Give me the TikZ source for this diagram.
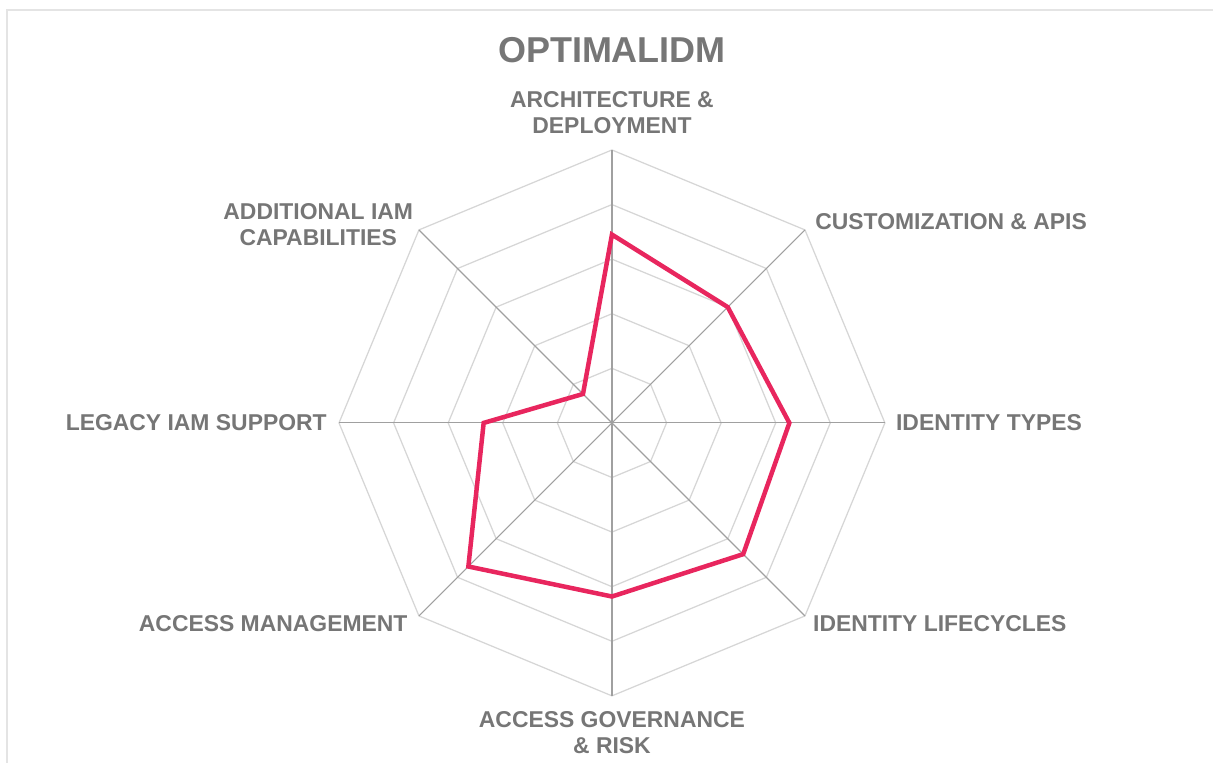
\documentclass[tikz,border=0pt]{standalone}
\usepackage{fontspec}
\setmainfont{Liberation Sans}
\definecolor{labelgray}{HTML}{767676}
\definecolor{ringgray}{HTML}{D6D6D6}
\definecolor{spokegray}{HTML}{A0A0A0}
\definecolor{scorered}{HTML}{E8265E}
\definecolor{framegray}{HTML}{E4E4E4}
\tikzset{
  axislabel/.style={text=labelgray, font=\fontsize{16.3}{18.5}\selectfont\bfseries, inner sep=0pt, align=center},
  ring/.style={draw=ringgray, line width=0.9pt},
  spoke/.style={draw=spokegray, line width=0.8pt},
  score/.style={draw=scorered, line width=3.2pt, line join=miter}
}
\begin{document}
\begin{tikzpicture}[x=1.365cm, y=1.365cm]

\useasboundingbox (-11.21,-6.227) rectangle (11.01,7.747);

% Frame
\draw [framegray, line width=1.2pt] (-11.08,-6.227) -- (-11.08,7.564) -- (11.01,7.564);

% Rings
\foreach \r in {1,...,5} {
  \draw [ring] (90:\r) -- (45:\r) -- (0:\r) -- (-45:\r) -- (-90:\r) -- (-135:\r) -- (180:\r) -- (135:\r) -- cycle;
}

% Spokes
\foreach \a in {0,45,...,315} {
  \draw [spoke] (0,0) -- (\a:5);
}

% Scores
\draw [score] (90:3.45) -- (45:3) -- (0:3.25) -- (-45:3.4) -- (-90:3.18) -- (-135:3.72) -- (180:2.35) -- (135:0.75) -- cycle;

% Labels
\node (title) at (0,6.83) [text=labelgray, font=\fontsize{25.6}{28}\selectfont\bfseries] {OPTIMALIDM};
\node (arch) at (0,5.68) [axislabel] {ARCHITECTURE \&\\DEPLOYMENT};
\node (custom) at (3.72,3.68) [axislabel, anchor=west] {CUSTOMIZATION \& APIS};
\node (types) at (5.20,0) [axislabel, anchor=west] {IDENTITY TYPES};
\node (life) at (3.68,-3.68) [axislabel, anchor=west] {IDENTITY LIFECYCLES};
\node (gov) at (0,-5.68) [axislabel] {ACCESS GOVERNANCE\\\& RISK};
\node (mgmt) at (-3.74,-3.68) [axislabel, anchor=east] {ACCESS MANAGEMENT};
\node (legacy) at (-5.22,0) [axislabel, anchor=east] {LEGACY IAM SUPPORT};
\node (extra) at (-5.38,3.64) [axislabel] {ADDITIONAL IAM\\CAPABILITIES};

\end{tikzpicture}
\end{document}
